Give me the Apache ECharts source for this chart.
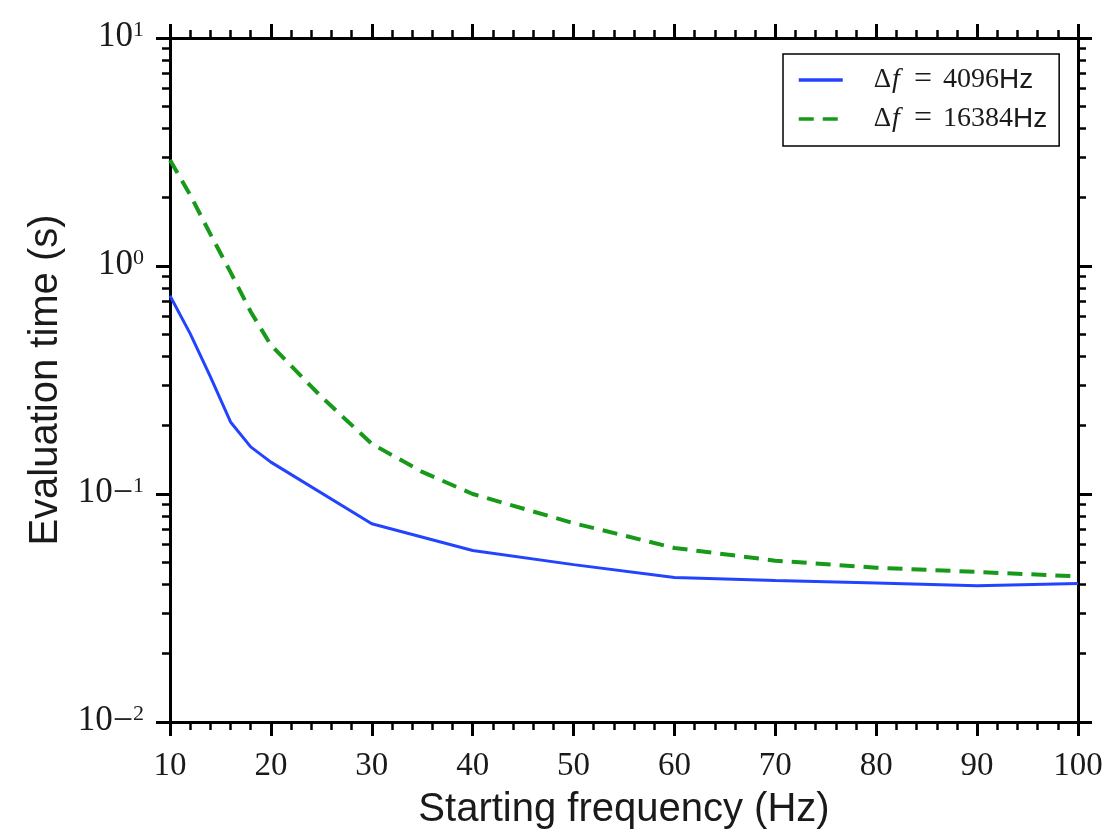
<!DOCTYPE html>
<html><head><meta charset="utf-8">
<script src="https://cdn.jsdelivr.net/npm/echarts@6/dist/echarts.min.js"></script>
<style>html,body{margin:0;padding:0;background:#fff}#main{width:1110px;height:831px}</style>
</head><body><div id="main"></div>
<script>
// ---- data ----
const blueName = 'Δf = 4096Hz';
const greenName = 'Δf = 16384Hz';
const blueX = [10, 12, 14, 16, 18, 20, 30, 40, 50, 60, 70, 80, 90, 100];
const blueY = [0.74, 0.505, 0.327, 0.207, 0.161, 0.138, 0.074, 0.0565, 0.049, 0.043, 0.0417, 0.0407, 0.0396, 0.0405];
const greenX = [10, 12, 14, 16, 18, 20, 25, 30, 35, 40, 50, 60, 70, 80, 90, 100];
const greenY = [2.92, 2.05, 1.38, 0.94, 0.63, 0.45, 0.267, 0.166, 0.125, 0.10, 0.0745, 0.058, 0.051, 0.0475, 0.0455, 0.0435];
const xTickValues = [10, 20, 30, 40, 50, 60, 70, 80, 90, 100];
const yDecades = [0.01, 0.1, 1, 10];
const xTitle = 'Starting frequency (Hz)';
const yTitle = 'Evaluation time (s)';

// minor tick positions (2..9 per decade) for the log axis
const yMinor = [];
for (let d = 0; d < yDecades.length - 1; d++) {
  for (let k = 2; k <= 9; k++) yMinor.push(+(yDecades[d] * k).toPrecision(6));
}

const zip = (xs, ys) => xs.map((x, i) => [x, ys[i]]);
const AX = '#000';
const LBL = '#1a1a1a';

const chart = echarts.init(document.getElementById('main'), null, {renderer: 'canvas'});

function yLabel(v) {
  const e = Math.round(Math.log10(v));
  if (e < 0) return '{b|10}{m|\u2212}{s|' + (-e) + '}';
  return '{b|10}{s|' + e + '}';
}

const xCommon = {
  type: 'value', min: xTickValues[0], max: xTickValues[xTickValues.length - 1], interval: 10,
  splitLine: {show: false},
  axisLine: {show: true, lineStyle: {color: AX, width: 3}},
  axisTick: {show: true, length: 14, lineStyle: {color: AX, width: 3}},
  minorTick: {show: true, splitNumber: 5, length: 8, lineStyle: {color: AX, width: 2.5}},
  minorSplitLine: {show: false}
};
const yCommon = {
  type: 'log', logBase: 10, min: yDecades[0], max: yDecades[yDecades.length - 1],
  splitLine: {show: false},
  axisLine: {show: true, lineStyle: {color: AX, width: 3}},
  axisTick: {show: true, length: 14, lineStyle: {color: AX, width: 3}}
};
const yMinorAxis = (pos) => ({
  type: 'log', logBase: 10, min: yDecades[0], max: yDecades[yDecades.length - 1], position: pos,
  splitLine: {show: false},
  axisLine: {show: false},
  axisLabel: {show: false},
  axisTick: {show: true, length: 8, customValues: yMinor, lineStyle: {color: AX, width: 2.5}}
});

const legendRich = {
  sp: {width: 26, fontSize: 26, lineHeight: 30},
  d: {fontFamily: 'Liberation Serif', fontSize: 27, lineHeight: 30, color: LBL},
  f: {fontFamily: 'Liberation Serif', fontStyle: 'italic', fontSize: 28, lineHeight: 30, color: LBL, padding: [0, 14, 0, 1]},
  e: {fontFamily: 'Liberation Serif', fontSize: 32, lineHeight: 30, color: LBL, padding: [0, 11, 0, 0]},
  n: {fontFamily: 'Liberation Serif', fontSize: 28, lineHeight: 30, color: LBL},
  h: {fontFamily: 'Liberation Sans', fontSize: 28, lineHeight: 30, color: LBL}
};

chart.setOption({
  animation: false,
  backgroundColor: '#fff',
  grid: {left: 170, right: 32, top: 38, bottom: 109, containLabel: false, outerBoundsMode: 'none'},
  legend: {
    orient: 'vertical', left: 783, top: 54,
    padding: [10, 12, 11, 14],
    itemGap: 7, itemWidth: 44, itemHeight: 14,
    borderColor: '#000', borderWidth: 1.5, borderRadius: 0, backgroundColor: '#fff',
    itemStyle: {opacity: 0},
    lineStyle: {width: 3.5},
    data: [blueName, greenName],
    formatter: (name) => {
      const m = name.match(/^Δf = (\d+)Hz$/);
      return '{sp| }{d|Δ}{f|f}{e|=}{n|' + m[1] + '}{h|Hz}';
    },
    textStyle: {rich: legendRich}
  },
  xAxis: [
    Object.assign({}, xCommon, {
      position: 'bottom',
      name: xTitle, nameLocation: 'middle', nameGap: 68,
      nameTextStyle: {fontFamily: 'Liberation Sans', fontSize: 40, color: LBL},
      axisLabel: {show: true, margin: 28, fontFamily: 'Liberation Serif', fontSize: 33, color: LBL}
    }),
    Object.assign({}, xCommon, {position: 'top', axisLabel: {show: false}})
  ],
  yAxis: [
    Object.assign({}, yCommon, {
      position: 'left',
      name: yTitle, nameLocation: 'middle', nameGap: 104,
      nameTextStyle: {fontFamily: 'Liberation Sans', fontSize: 40, color: LBL},
      axisLabel: {
        show: true, margin: 26, formatter: yLabel,
        padding: [0, 0, 3, 0],
        rich: {
          b: {fontFamily: 'Liberation Serif', fontSize: 35, lineHeight: 34, color: LBL},
          m: {fontFamily: 'Liberation Serif', fontSize: 36, lineHeight: 22, verticalAlign: 'top', color: LBL},
          s: {fontFamily: 'Liberation Serif', fontSize: 22, lineHeight: 22, verticalAlign: 'top', color: LBL}
        }
      }
    }),
    Object.assign({}, yCommon, {position: 'right', axisLabel: {show: false}}),
    yMinorAxis('left'),
    yMinorAxis('right')
  ],
  series: [
    {
      name: blueName, type: 'line', xAxisIndex: 0, yAxisIndex: 0,
      data: zip(blueX, blueY), symbol: 'none', smooth: false,
      lineStyle: {color: '#2244ff', width: 3},
      itemStyle: {color: '#2244ff'}
    },
    {
      name: greenName, type: 'line', xAxisIndex: 0, yAxisIndex: 0,
      data: zip(greenX, greenY), symbol: 'none', smooth: false,
      lineStyle: {color: '#17991a', width: 4, type: [15, 9]},
      itemStyle: {color: '#17991a'}
    }
  ]
});
</script></body></html>
